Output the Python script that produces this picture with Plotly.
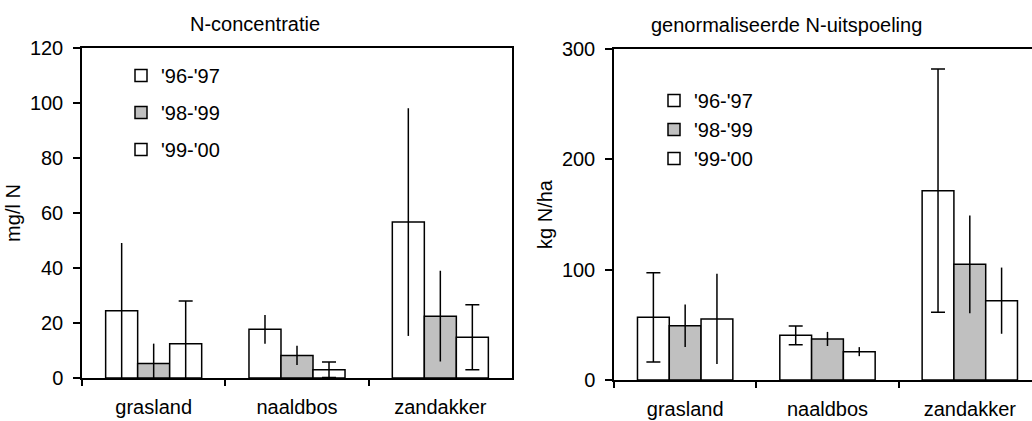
import plotly.graph_objects as go

categories = ["grasland", "naaldbos", "zandakker"]
series = ["'96-'97", "'98-'99", "'99-'00"]
fills = ["#ffffff", "#c0c0c0", "#ffffff"]

# N-concentratie (mg/l N)
conc_9697 = [24.5, 17.7, 56.7]
conc_9899 = [5.3, 8.2, 22.5]
conc_9900 = [12.5, 3.0, 14.8]
conc_err_9697 = [24.6, 5.2, 41.4]
conc_err_9899 = [7.2, 3.5, 16.5]
conc_err_9900 = [15.5, 2.8, 11.8]

# genormaliseerde N-uitspoeling (kg N/ha)
uit_9697 = [56.8, 40.5, 171.6]
uit_9899 = [49.2, 37.2, 104.8]
uit_9900 = [55.3, 25.7, 71.9]
uit_err_9697 = [40.4, 8.5, 110.3]
uit_err_9899 = [19.2, 6.4, 44.2]
uit_err_9900 = [40.9, 4.1, 30.0]

left_vals = [conc_9697, conc_9899, conc_9900]
left_errs = [conc_err_9697, conc_err_9899, conc_err_9900]
left_caps = [0, 0, 7]
right_vals = [uit_9697, uit_9899, uit_9900]
right_errs = [uit_err_9697, uit_err_9899, uit_err_9900]
right_caps = [7, 0, 0]

FONT = "Liberation Sans, Arial, sans-serif"
FS = 20
W, H = 1032, 421

fig = go.Figure()

for i in range(3):
    fig.add_trace(go.Bar(
        x=categories, y=left_vals[i], name=series[i],
        marker=dict(color=fills[i], line=dict(color="black", width=1.5)),
        error_y=dict(type="data", array=left_errs[i], color="black",
                     thickness=1.5, width=left_caps[i]),
        xaxis="x", yaxis="y", legend="legend", legendgroup="L%d" % i,
    ))
for i in range(3):
    fig.add_trace(go.Bar(
        x=categories, y=right_vals[i], name=series[i],
        marker=dict(color=fills[i], line=dict(color="black", width=1.5)),
        error_y=dict(type="data", array=right_errs[i], color="black",
                     thickness=1.5, width=right_caps[i]),
        xaxis="x2", yaxis="y2", legend="legend2", legendgroup="R%d" % i,
    ))

txt = dict(family=FONT, size=FS, color="black")
axis_common = dict(showline=True, linecolor="black", linewidth=1.5,
                   ticks="outside", tickcolor="black", tickwidth=1.5,
                   showgrid=False, zeroline=False, automargin=False,
                   tickfont=txt)

fig.update_layout(
    width=W, height=H,
    margin=dict(l=0, r=0, t=0, b=0, pad=0),
    paper_bgcolor="white", plot_bgcolor="white",
    barmode="group", bargap=0.33, bargroupgap=0,
    font=txt,
    xaxis=dict(domain=[82 / W, 512 / W], anchor="y", type="category",
               range=[-0.5, 2.5], tickson="boundaries", ticklen=6,
               ticklabelstandoff=10, mirror=True, **axis_common),
    yaxis=dict(domain=[43 / H, 373 / H], anchor="x", range=[0, 120],
               tickvals=[0, 20, 40, 60, 80, 100, 120], ticklen=7,
               ticklabelstandoff=6, mirror=True,
               title=dict(text="mg/l N", standoff=4, font=txt),
               **axis_common),
    xaxis2=dict(domain=[614 / W, 1.0], anchor="y2", type="category",
                range=[-0.5, 2.437], tickson="boundaries", ticklen=6,
                ticklabelstandoff=10, mirror=True, **axis_common),
    yaxis2=dict(domain=[41 / H, 372 / H], anchor="x2", range=[0, 300],
                tickvals=[0, 100, 200, 300], ticklen=7, mirror=False,
                ticklabelstandoff=6,
                title=dict(text="kg N/ha", standoff=4, font=txt),
                **axis_common),
    legend=dict(x=121 / W, y=1 - 56 / H, xanchor="left", yanchor="top",
                bgcolor="rgba(0,0,0,0)", tracegroupgap=8, font=txt),
    legend2=dict(x=654 / W, y=1 - 81 / H, xanchor="left", yanchor="top",
                 bgcolor="rgba(0,0,0,0)", tracegroupgap=0, font=txt),
    showlegend=True,
    annotations=[
        dict(text="N-concentratie", x=255 / W, y=1 - 24 / H, xref="paper",
             yref="paper", showarrow=False, xanchor="center", yanchor="middle",
             font=txt),
        dict(text="genormaliseerde N-uitspoeling", x=786 / W, y=1 - 25 / H,
             xref="paper", yref="paper", showarrow=False, xanchor="center",
             yanchor="middle", font=txt),
    ],
)

fig.write_html("out.html")
